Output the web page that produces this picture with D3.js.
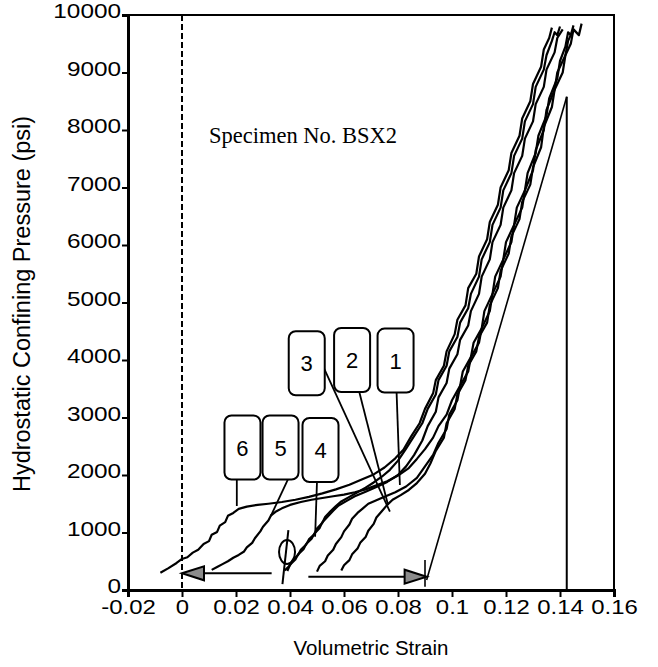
<!DOCTYPE html>
<html>
<head>
<meta charset="utf-8">
<script src="https://cdn.jsdelivr.net/npm/d3@7"></script>
<style>
	body { margin: 0; background: #fff; }
	svg { display: block; }
	.tick text { font-family: "Liberation Sans", Arial, sans-serif; font-size: 21px; fill: #000; }
</style>
</head>
<body>
<div id="chart"></div>
<script>

// Loading cycles, [volumetric strain, pressure psi]
var curve6 = [
	[-0.008,300],[-0.005,380],[-0.002,470],[0,540],[0.002,570],[0.004,650],[0.006,700],[0.008,800],[0.010,850],
	[0.011,960],[0.013,1010],[0.014,1120],[0.016,1180],[0.017,1290],[0.019,1340],[0.021,1410],[0.024,1450],
	[0.028,1480],[0.032,1500],[0.037,1530],[0.042,1570],[0.047,1620],[0.052,1680],[0.057,1750],[0.062,1830],
	[0.067,1930],[0.071,2010],[0.075,2130],[0.079,2290],[0.082,2440],[0.085,2680],[0.088,2900],[0.090,3150],
	[0.093,3420],[0.094,3650],[0.097,3900],[0.098,4150],[0.101,4450],[0.102,4700],[0.105,4950],[0.106,5250],
	[0.109,5500],[0.110,5800],[0.113,6100],[0.114,6400],[0.117,6700],[0.118,7000],[0.121,7300],[0.122,7600],
	[0.125,7900],[0.126,8200],[0.129,8500],[0.130,8800],[0.133,9100],[0.134,9400],[0.136,9600],[0.137,9780]
];

var curve5 = [
	[0.011,350],[0.013,400],[0.015,450],[0.017,500],[0.019,560],[0.021,610],[0.023,670],[0.024,740],[0.026,820],
	[0.027,900],[0.029,1020],[0.030,1100],[0.032,1210],[0.033,1300],[0.035,1370],[0.037,1420],[0.040,1480],
	[0.044,1530],[0.048,1570],[0.052,1600],[0.056,1630],[0.060,1660],[0.064,1700],[0.068,1750],[0.072,1820],
	[0.076,1890],[0.080,1990],[0.084,2120],[0.087,2280],[0.090,2450],[0.093,2650],[0.095,2850],[0.098,3050],
	[0.100,3300],[0.103,3550],[0.104,3800],[0.107,4050],[0.108,4300],[0.111,4550],[0.112,4850],[0.115,5150],
	[0.116,5450],[0.119,5750],[0.120,6050],[0.123,6350],[0.124,6650],[0.127,6950],[0.128,7250],[0.131,7600],
	[0.132,7900],[0.135,8250],[0.136,8550],[0.139,8900],[0.140,9200],[0.142,9450],[0.143,9700],[0.144,9650],[0.145,9820]
];

var curve4 = [
	[0.038,340],[0.040,430],[0.041,520],[0.043,610],[0.044,700],[0.046,790],[0.047,880],[0.049,970],[0.050,1070],
	[0.052,1170],[0.053,1270],[0.055,1370],[0.057,1460],[0.059,1540],[0.062,1620],[0.065,1700],[0.068,1780],
	[0.071,1870],[0.074,1970],[0.077,2090],[0.080,2250],[0.083,2460],[0.086,2680],[0.089,2900],[0.091,3150],
	[0.094,3400],[0.095,3650],[0.098,3900],[0.099,4150],[0.102,4400],[0.103,4650],[0.106,4900],[0.107,5150],
	[0.110,5450],[0.111,5750],[0.114,6050],[0.115,6350],[0.118,6650],[0.119,6950],[0.122,7250],[0.123,7550],
	[0.126,7850],[0.127,8150],[0.130,8450],[0.131,8750],[0.134,9050],[0.135,9300],[0.137,9550],[0.138,9700],
	[0.139,9650],[0.140,9800]
];

var curve3 = [
	[0.050,320],[0.051,420],[0.053,500],[0.054,600],[0.056,700],[0.057,800],[0.059,920],[0.060,1020],[0.062,1140],
	[0.063,1240],[0.065,1340],[0.067,1420],[0.069,1500],[0.072,1560],[0.075,1620],[0.079,1700],[0.083,1800],
	[0.087,1950],[0.090,2150],[0.093,2350],[0.095,2560],[0.098,2800],[0.099,3050],[0.102,3300],[0.103,3550],
	[0.106,3800],[0.107,4050],[0.110,4300],[0.111,4550],[0.114,4850],[0.115,5150],[0.118,5450],[0.119,5750],
	[0.122,6050],[0.123,6350],[0.126,6650],[0.127,6950],[0.130,7300],[0.131,7650],[0.134,8000],[0.135,8350],
	[0.138,8700],[0.139,9000],[0.142,9300],[0.143,9550],[0.145,9750]
];

var curve2 = [
	[0.059,340],[0.060,430],[0.062,520],[0.063,620],[0.065,720],[0.066,820],[0.068,920],[0.069,1030],[0.071,1150],
	[0.072,1260],[0.074,1370],[0.076,1480],[0.078,1570],[0.081,1650],[0.084,1740],[0.087,1860],[0.090,2020],
	[0.092,2200],[0.094,2420],[0.097,2650],[0.098,2900],[0.101,3150],[0.102,3400],[0.105,3650],[0.106,3900],
	[0.109,4150],[0.110,4400],[0.113,4650],[0.114,4950],[0.117,5250],[0.118,5550],[0.121,5850],[0.122,6150],
	[0.125,6450],[0.126,6750],[0.129,7050],[0.130,7350],[0.133,7700],[0.134,8050],[0.137,8400],[0.138,8700],
	[0.141,9000],[0.142,9300],[0.144,9500],[0.145,9750],[0.147,9650],[0.148,9850]
];

var curve1 = [
	[0.039,330],[0.040,440],[0.042,530],[0.043,620],[0.045,710],[0.046,800],[0.048,890],[0.049,980],[0.051,1080],
	[0.052,1180],[0.054,1280],[0.056,1380],[0.058,1470],[0.061,1550],[0.064,1630],[0.068,1710],[0.072,1790],
	[0.076,1880],[0.080,2000],[0.083,2150],[0.086,2350],[0.089,2600],[0.091,2850],[0.094,3100],[0.095,3350],
	[0.098,3600],[0.099,3850],[0.102,4100],[0.103,4350],[0.106,4600],[0.107,4850],[0.110,5150],[0.111,5450],
	[0.114,5750],[0.115,6050],[0.118,6350],[0.119,6650],[0.122,6950],[0.123,7250],[0.126,7550],[0.127,7850],
	[0.130,8150],[0.131,8450],[0.134,8750],[0.135,9050],[0.138,9350],[0.139,9600],[0.141,9750]
];

var curves = [ curve1, curve2, curve3, curve4, curve5, curve6 ];

// unloading line and max strain marker
var unloadLine = [ [0.0906,174], [0.1425,8579] ];
var maxStrainLine = [ [0.1425,8579], [0.1425,0] ];

// labels: name, box centre, leader start, leader end
var labelNames = [ "1", "2", "3", "4", "5", "6" ];
var labelBox = [ [0.0791,3990], [0.0630,4000], [0.0462,3943], [0.0513,2435], [0.0365,2478], [0.0224,2478] ];
var labelFrom = [ [0.0791,3930], [0.0630,3935], [0.0518,3935], [0.0500,1890], [0.0392,1920], [0.0203,1920] ];
var labelTo = [ [0.0807,1826], [0.0763,1478], [0.0770,1362], [0.0493,927], [0.0329,1287], [0.0203,1461] ];

// arrows [tail, tip]
var arrowLeft = [ [0.0332,290], [0.0,290] ];
var arrowRight = [ [0.0468,231], [0.0906,231] ];
var arrowTick = [ [0.0900,522], [0.0900,57] ];

// phi marker
var phiCentre = [ 0.0389, 661 ];
var phiStroke = [ [0.0372,104], [0.0394,1043] ];

var xTicks = [ -0.02, 0, 0.02, 0.04, 0.06, 0.08, 0.1, 0.12, 0.14, 0.16 ];
var xTickLabels = [ "-0.02", "0", "0.02", "0.04", "0.06", "0.08", "0.1", "0.12", "0.14", "0.16" ];
var yTicks = [ 0, 1000, 2000, 3000, 4000, 5000, 6000, 7000, 8000, 9000, 10000 ];

var width = 658;
var height = 667;

var margin = { top: 15, right: 44, bottom: 77, left: 128 };

var size = {
	width: width - margin.left - margin.right,
	height: height - margin.top - margin.bottom
};

var scale = {
	x: d3.scaleLinear().domain( [ -0.02, 0.16 ] ).range( [ 0, size.width ] ),
	y: d3.scaleLinear().domain( [ 0, 10000 ] ).range( [ size.height, 0 ] )
};

var svg = d3.select( "#chart" ).append( "svg" )
	.attr( "width", width )
	.attr( "height", height );

var root = svg.append( "g" )
	.attr( "transform", "translate(" + margin.left + "," + margin.top + ")" );

var px = function( d ) { return scale.x( d[ 0 ] ); };
var py = function( d ) { return scale.y( d[ 1 ] ); };

var line = d3.line().x( px ).y( py );

// frame: top and right
root.append( "path" )
	.attr( "d", "M0,0H" + size.width + "V" + size.height )
	.attr( "fill", "none" )
	.attr( "stroke", "#000" )
	.attr( "stroke-width", 2 );

// zero strain dashed line
root.append( "line" )
	.attr( "x1", scale.x( 0 ) ).attr( "x2", scale.x( 0 ) )
	.attr( "y1", 0 ).attr( "y2", size.height )
	.attr( "stroke", "#000" )
	.attr( "stroke-width", 2 )
	.attr( "stroke-dasharray", "6,3" );

root.append( "path" )
	.datum( maxStrainLine )
	.attr( "d", line )
	.attr( "fill", "none" )
	.attr( "stroke", "#000" )
	.attr( "stroke-width", 2 );

root.append( "path" )
	.datum( unloadLine )
	.attr( "d", line )
	.attr( "fill", "none" )
	.attr( "stroke", "#000" )
	.attr( "stroke-width", 1.6 );

root.append( "g" )
	.selectAll( "path" )
	.data( curves )
	.enter()
	.append( "path" )
	.attr( "d", line )
	.attr( "fill", "none" )
	.attr( "stroke", "#000" )
	.attr( "stroke-width", 2.2 )
	.attr( "stroke-linejoin", "round" );

// arrows
var drawArrow = function( pts )
{
	var tail = pts[ 0 ], tip = pts[ 1 ];
	var dir = scale.x( tip[ 0 ] ) > scale.x( tail[ 0 ] ) ? 1 : -1;
	var tx = scale.x( tip[ 0 ] ), ty = scale.y( tip[ 1 ] );
	var headLen = 22;

	root.append( "line" )
		.attr( "x1", scale.x( tail[ 0 ] ) ).attr( "y1", scale.y( tail[ 1 ] ) )
		.attr( "x2", tx - dir * headLen ).attr( "y2", ty )
		.attr( "stroke", "#000" )
		.attr( "stroke-width", 2 );

	root.append( "path" )
		.attr( "d", "M" + tx + "," + ty + "L" + ( tx - dir * headLen ) + "," + ( ty - 7 ) + "L" + ( tx - dir * headLen ) + "," + ( ty + 7 ) + "Z" )
		.attr( "fill", "#8c8c8c" )
		.attr( "stroke", "#000" )
		.attr( "stroke-width", 2 );
};

drawArrow( arrowLeft );
drawArrow( arrowRight );

root.append( "path" )
	.datum( arrowTick )
	.attr( "d", line )
	.attr( "stroke", "#000" )
	.attr( "stroke-width", 1.6 );

// phi
root.append( "ellipse" )
	.attr( "cx", scale.x( phiCentre[ 0 ] ) )
	.attr( "cy", scale.y( phiCentre[ 1 ] ) )
	.attr( "rx", 8 )
	.attr( "ry", 12 )
	.attr( "fill", "none" )
	.attr( "stroke", "#000" )
	.attr( "stroke-width", 2 );

root.append( "path" )
	.datum( phiStroke )
	.attr( "d", line )
	.attr( "stroke", "#000" )
	.attr( "stroke-width", 2 );

// labels
var labels = root.append( "g" )
	.selectAll( "g" )
	.data( labelNames )
	.enter()
	.append( "g" );

labels.append( "line" )
	.attr( "x1", function( d, i ) { return scale.x( labelFrom[ i ][ 0 ] ); } )
	.attr( "y1", function( d, i ) { return scale.y( labelFrom[ i ][ 1 ] ); } )
	.attr( "x2", function( d, i ) { return scale.x( labelTo[ i ][ 0 ] ); } )
	.attr( "y2", function( d, i ) { return scale.y( labelTo[ i ][ 1 ] ); } )
	.attr( "stroke", "#000" )
	.attr( "stroke-width", 1.8 );

labels.append( "rect" )
	.attr( "x", function( d, i ) { return scale.x( labelBox[ i ][ 0 ] ) - 18; } )
	.attr( "y", function( d, i ) { return scale.y( labelBox[ i ][ 1 ] ) - 32; } )
	.attr( "width", 36 )
	.attr( "height", 64 )
	.attr( "rx", 7 )
	.attr( "fill", "#fff" )
	.attr( "stroke", "#000" )
	.attr( "stroke-width", 2 );

labels.append( "text" )
	.attr( "x", function( d, i ) { return scale.x( labelBox[ i ][ 0 ] ); } )
	.attr( "y", function( d, i ) { return scale.y( labelBox[ i ][ 1 ] ) + 8; } )
	.attr( "text-anchor", "middle" )
	.attr( "font-family", "Liberation Sans, Arial, sans-serif" )
	.attr( "font-size", 22 )
	.text( function( d ) { return d; } );

// axes
var xAxis = root.append( "g" )
	.attr( "transform", "translate(0," + size.height + ")" )
	.call( d3.axisBottom( scale.x ).tickValues( xTicks ).tickSize( 7 ).tickPadding( 2 )
		.tickFormat( function( d, i ) { return xTickLabels[ i ]; } ) );

var yAxis = root.append( "g" )
	.call( d3.axisLeft( scale.y ).tickValues( yTicks ).tickSize( 6 ).tickPadding( 0 ).tickFormat( d3.format( "d" ) ) );

xAxis.select( ".domain" ).attr( "stroke-width", 3 );
yAxis.select( ".domain" ).attr( "stroke-width", 3 );
xAxis.selectAll( ".tick line" ).attr( "stroke-width", 2 );
yAxis.selectAll( ".tick line" ).attr( "stroke-width", 2 );

// the scanned tick labels are set wide
xAxis.selectAll( ".tick text" ).attr( "transform", "scale(1.14,1)" );
yAxis.selectAll( ".tick text" ).attr( "transform", "translate(0,-4) scale(1.16,1)" );

// text
root.append( "text" )
	.attr( "x", scale.x( 0.01 ) )
	.attr( "y", scale.y( 7780 ) )
	.attr( "font-family", "Liberation Serif, Times New Roman, serif" )
	.attr( "font-size", 22.5 )
	.text( "Specimen No. BSX2" );

svg.append( "text" )
	.attr( "x", margin.left + size.width / 2 )
	.attr( "y", 655 )
	.attr( "text-anchor", "middle" )
	.attr( "font-family", "Liberation Sans, Arial, sans-serif" )
	.attr( "font-size", 20.5 )
	.text( "Volumetric Strain" );

svg.append( "text" )
	.attr( "transform", "translate(30,304) rotate(-90)" )
	.attr( "text-anchor", "middle" )
	.attr( "font-family", "Liberation Sans, Arial, sans-serif" )
	.attr( "font-size", 23.5 )
	.text( "Hydrostatic Confining Pressure (psi)" );

</script>
</body>
</html>
